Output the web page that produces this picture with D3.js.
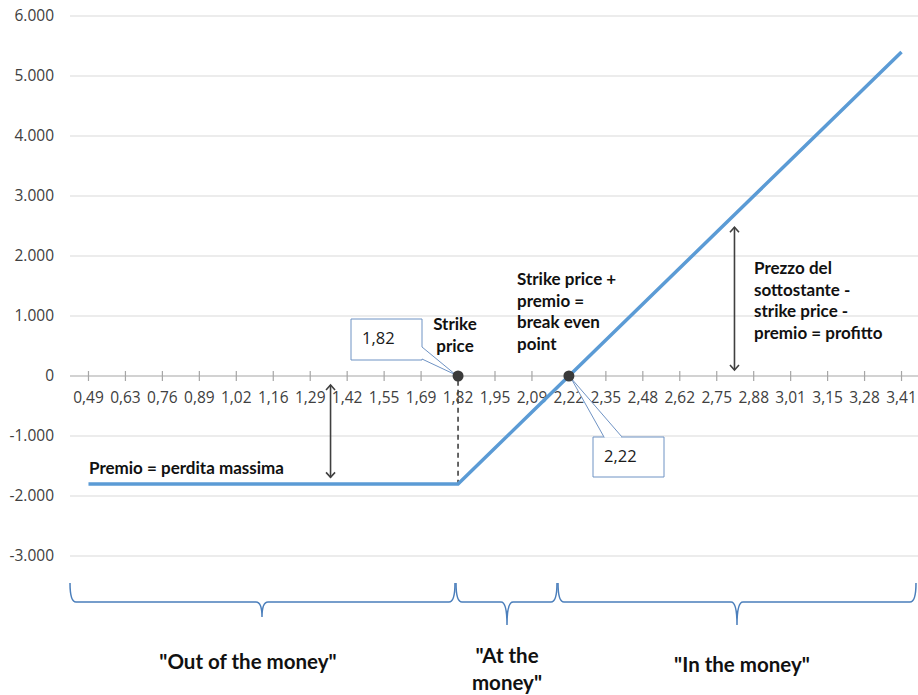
<!DOCTYPE html>
<html>
<head>
<meta charset="utf-8">
<script src="https://cdn.jsdelivr.net/npm/d3@7"></script>
<style>
  body { margin: 0; background: #fff; }
  svg { display: block; }
</style>
</head>
<body>
<script>
// Prezzo del sottostante (categorie asse x)
const categories = ['0,49', '0,63', '0,76', '0,89', '1,02', '1,16', '1,29', '1,42', '1,55', '1,69', '1,82',
  '1,95', '2,09', '2,22', '2,35', '2,48', '2,62', '2,75', '2,88', '3,01', '3,15', '3,28', '3,41'];
// Profitto / perdita della call
const payoff = [-1800, -1800, -1800, -1800, -1800, -1800, -1800, -1800, -1800, -1800, -1800,
  -1200, -600, 0, 600, 1200, 1800, 2400, 3000, 3600, 4200, 4800, 5400];
const yTicks = [-3000, -2000, -1000, 0, 1000, 2000, 3000, 4000, 5000, 6000];
const strikeLabel = '1,82';
const breakEvenLabel = '2,22';

const width = 918, height = 695;
const font = "'Open Sans', sans-serif";
const boldFont = "'Lato', sans-serif";

const locale = d3.formatLocale({ decimal: ',', thousands: '.', grouping: [3], currency: ['', ''], minus: '-' });
const fmt = locale.format(',.0f');

const svg = d3.select('body').append('svg')
  .attr('width', width)
  .attr('height', height);

const x = d3.scalePoint().domain(categories).range([70, 920]).padding(0.5);
const y = d3.scaleLinear().domain([-3000, 6000]).range([556, 16]);
const step = x.step();

// Arrow markers
const defs = svg.append('defs');
['start', 'end'].forEach(k => {
  defs.append('marker')
    .attr('id', 'arr-' + k)
    .attr('viewBox', '-6 -6 12 12')
    .attr('refX', 0).attr('refY', 0)
    .attr('markerWidth', 12).attr('markerHeight', 12)
    .attr('markerUnits', 'userSpaceOnUse')
    .attr('orient', 'auto-start-reverse')
    .append('path')
    .attr('d', 'M-5,-4.5 L0,0 L-5,4.5')
    .attr('fill', 'none')
    .attr('stroke', '#404040')
    .attr('stroke-width', 1.6);
});

// Gridlines
svg.append('g').selectAll('line')
  .data(yTicks.filter(d => d !== 0))
  .enter().append('line')
  .attr('x1', 70).attr('x2', width)
  .attr('y1', d => y(d)).attr('y2', d => y(d))
  .attr('stroke', '#d9d9d9')
  .attr('stroke-width', 1);

// Y labels
svg.append('g').selectAll('text')
  .data(yTicks)
  .enter().append('text')
  .attr('x', 54)
  .attr('y', d => y(d))
  .attr('dy', '0.35em')
  .attr('text-anchor', 'end')
  .attr('font-family', font)
  .attr('font-size', '15.5px')
  .attr('fill', '#404040')
  .text(d => fmt(d));

// Zero axis with cross ticks
svg.append('line')
  .attr('x1', 70).attr('x2', width)
  .attr('y1', y(0)).attr('y2', y(0))
  .attr('stroke', '#a6a6a6')
  .attr('stroke-width', 1.2);

svg.append('g').selectAll('line')
  .data(categories)
  .enter().append('line')
  .attr('x1', d => x(d)).attr('x2', d => x(d))
  .attr('y1', y(0) - 5).attr('y2', y(0) + 5)
  .attr('stroke', '#a6a6a6')
  .attr('stroke-width', 1.2);

svg.append('g').selectAll('text')
  .data(categories)
  .enter().append('text')
  .attr('x', d => x(d))
  .attr('y', y(0) + 22)
  .attr('dy', '0.35em')
  .attr('text-anchor', 'middle')
  .attr('font-family', font)
  .attr('font-size', '15.5px')
  .attr('fill', '#404040')
  .text(d => d);

// Dashed strike line
svg.append('line')
  .attr('x1', x(strikeLabel)).attr('x2', x(strikeLabel))
  .attr('y1', y(-80)).attr('y2', y(-1800))
  .attr('stroke', '#404040')
  .attr('stroke-width', 1.6)
  .attr('stroke-dasharray', '5,4');

// Payoff line
const line = d3.line()
  .x((d, i) => x(categories[i]))
  .y(d => y(d));

svg.append('path')
  .datum(payoff)
  .attr('d', line)
  .attr('fill', 'none')
  .attr('stroke', '#5b9bd5')
  .attr('stroke-width', 3.5)
  .attr('stroke-linejoin', 'round');

// Double arrows
function dblArrow(xp, v0, v1) {
  svg.append('line')
    .attr('x1', xp).attr('x2', xp)
    .attr('y1', y(v0)).attr('y2', y(v1))
    .attr('stroke', '#404040')
    .attr('stroke-width', 1.6)
    .attr('marker-start', 'url(#arr-start)')
    .attr('marker-end', 'url(#arr-end)');
}
dblArrow(x('1,29') + step * 0.55, -150, -1690);
dblArrow(x('2,75') + step * 0.48, 2480, 100);

// Callouts
function callout(bx, by, bw, bh, base, tip, label) {
  const p = d3.path();
  p.moveTo(bx, by);
  p.lineTo(bx + bw, by);
  if (base.side === 'right') {
    p.lineTo(bx + bw, base.a);
    p.lineTo(tip[0], tip[1]);
    p.lineTo(bx + bw, base.b);
    p.lineTo(bx + bw, by + bh);
    p.lineTo(bx, by + bh);
  } else {
    p.lineTo(bx + bw, by + bh);
    p.lineTo(bx, by + bh);
  }
  p.closePath();
  svg.append('path')
    .attr('d', p.toString())
    .attr('fill', '#fff')
    .attr('stroke', '#6f93c4')
    .attr('stroke-width', 1);
  if (base.side === 'top') {
    svg.append('path')
      .attr('d', `M${base.a},${by} L${tip[0]},${tip[1]} L${base.b},${by}`)
      .attr('fill', '#fff')
      .attr('stroke', '#6f93c4')
      .attr('stroke-width', 1);
    svg.append('line')
      .attr('x1', base.a + 0.8).attr('x2', base.b - 0.8)
      .attr('y1', by).attr('y2', by)
      .attr('stroke', '#fff')
      .attr('stroke-width', 1.5);
  }
  svg.append('text')
    .attr('x', bx + 11)
    .attr('y', by + bh / 2 - 1)
    .attr('dy', '0.35em')
    .attr('font-family', font)
    .attr('font-size', '16.5px')
    .attr('fill', '#1a1a1a')
    .text(label);
}
callout(351, 319, 71, 41, { side: 'right', a: 347, b: 359 }, [x(strikeLabel) - 2, y(0) - 1], strikeLabel);
callout(593, 437, 71, 40, { side: 'top', a: 604, b: 622 }, [x(breakEvenLabel) + 2, y(0) + 2], breakEvenLabel);

// Points
svg.append('g').selectAll('circle')
  .data([strikeLabel, breakEvenLabel])
  .enter().append('circle')
  .attr('cx', d => x(d))
  .attr('cy', y(0))
  .attr('r', 5.5)
  .attr('fill', '#3a3a3a');

// Annotation texts
function multiText(lines, tx, ty, lh, anchor, size) {
  const t = svg.append('text')
    .attr('font-family', boldFont)
    .attr('font-weight', 'bold')
    .attr('font-size', size + 'px')
    .attr('fill', '#111')
    .attr('text-anchor', anchor);
  lines.forEach((s, i) => {
    t.append('tspan').attr('x', tx).attr('y', ty + i * lh).text(s);
  });
}
multiText(['Strike', 'price'], 455, 330, 22, 'middle', 17);
multiText(['Strike price +', 'premio =', 'break even', 'point'], 517, 285, 21.5, 'start', 17);
multiText(['Prezzo del', 'sottostante -', 'strike price -', 'premio = profitto'], 754, 274, 21.5, 'start', 17);
multiText(['Premio = perdita massima'], 89, 474, 0, 'start', 17);

// Braces
function brace(x0, x1, xm, top, mid, bot) {
  const q = 6;
  const p = `M${x0},${top} Q${x0},${mid} ${x0 + q},${mid} L${xm - q},${mid} Q${xm},${mid} ${xm},${bot}` +
    ` Q${xm},${mid} ${xm + q},${mid} L${x1 - q},${mid} Q${x1},${mid} ${x1},${top}`;
  svg.append('path')
    .attr('d', p)
    .attr('fill', 'none')
    .attr('stroke', '#4a7ebb')
    .attr('stroke-width', 1.5);
}
brace(70, 455, 262, 583, 602, 617);
brace(456, 557, 507, 583, 602, 625);
brace(558, 916, 737, 583, 602, 625);

multiText(['"Out of the money"'], 248, 669, 0, 'middle', 20.5);
multiText(['"At the', 'money"'], 507, 663, 27, 'middle', 20.5);
multiText(['"In the money"'], 742, 672, 0, 'middle', 20.5);
</script>
</body>
</html>
